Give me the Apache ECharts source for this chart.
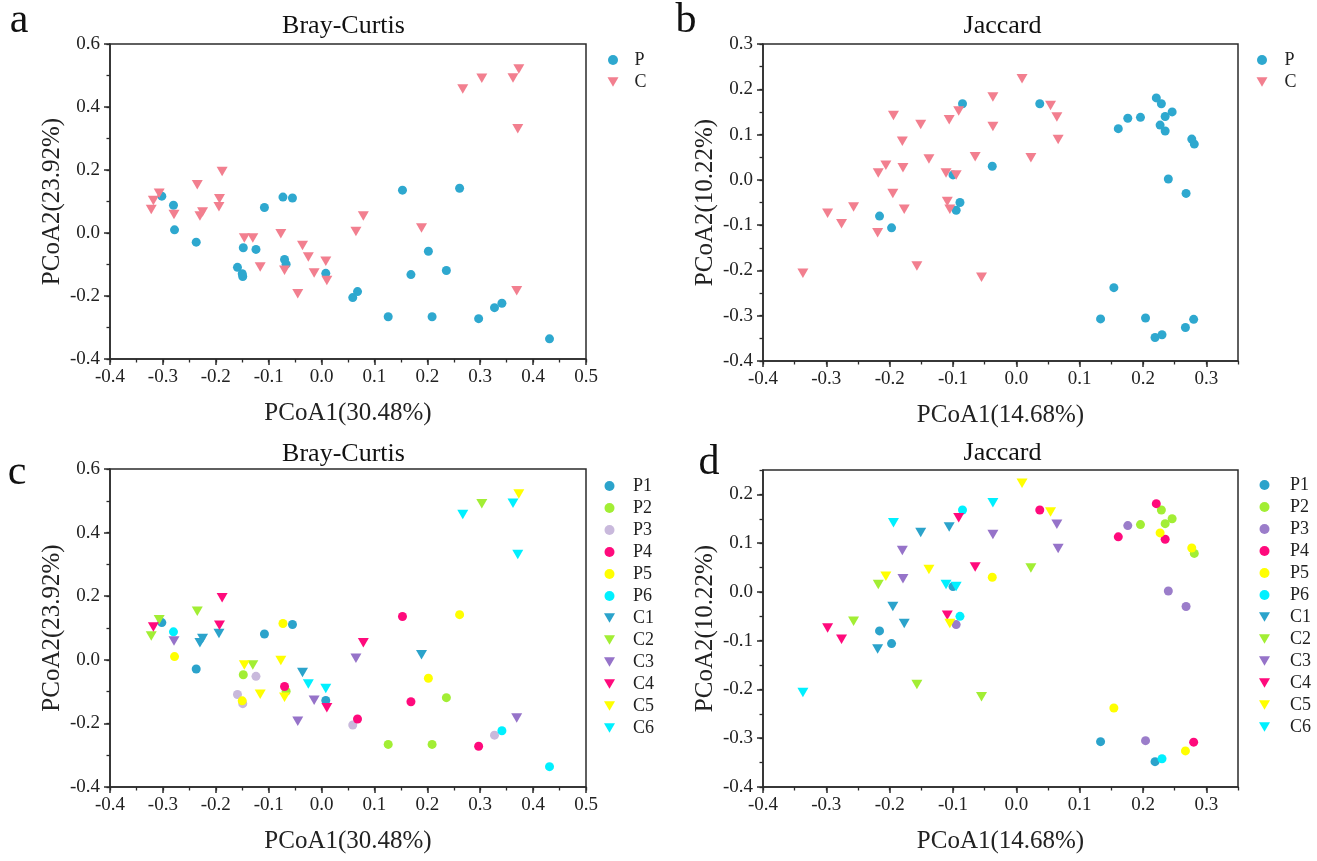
<!DOCTYPE html>
<html>
<head>
<meta charset="utf-8">
<script src="https://cdn.jsdelivr.net/npm/echarts@6/dist/echarts.min.js"></script>
<style>
html,body{margin:0;padding:0;background:#fff;}
#chart{width:1317px;height:861px;}
</style>
</head>
<body>
<div id="chart"></div>
<script>
// ---------------- DATA ----------------
const GROUPS = ['P1','P2','P3','P4','P5','P6','C1','C2','C3','C4','C5','C6'];

// Bray-Curtis PCoA (PCoA1 30.48%, PCoA2 23.92%)
const bcP1 = [[-0.302,0.117],[-0.237,-0.029],[-0.108,0.081],[-0.055,0.111],[0.008,-0.128]];
const bcP2 = [[-0.148,-0.047],[-0.067,-0.099],[0.236,-0.119],[0.126,-0.266],[0.209,-0.266]];
const bcP3 = [[-0.159,-0.109],[-0.149,-0.138],[-0.124,-0.052],[0.059,-0.205],[0.327,-0.237]];
const bcP4 = [[-0.070,-0.084],[0.068,-0.186],[0.153,0.136],[0.169,-0.132],[0.297,-0.272]];
const bcP5 = [[-0.278,0.010],[-0.150,-0.129],[-0.073,0.114],[0.261,0.142],[0.202,-0.058]];
const bcP6 = [[-0.280,0.088],[0.341,-0.223],[0.431,-0.336]];
const bcC1 = [[-0.230,0.054],[-0.225,0.067],[-0.194,0.083],[-0.036,-0.040],[0.189,0.016]];
const bcC2 = [[-0.322,0.075],[-0.307,0.126],[-0.235,0.153],[-0.130,-0.016],[0.303,0.491]];
const bcC3 = [[-0.279,0.059],[-0.045,-0.193],[-0.014,-0.127],[0.065,0.005],[0.369,-0.183]];
const bcC4 = [[-0.318,0.103],[-0.188,0.195],[-0.193,0.109],[0.010,-0.151],[0.079,0.054]];
const bcC5 = [[-0.146,-0.016],[-0.116,-0.108],[-0.077,-0.002],[-0.070,-0.118],[0.373,0.521]];
const bcC6 = [[-0.025,-0.076],[0.008,-0.090],[0.267,0.457],[0.362,0.492],[0.371,0.331]];

// Jaccard PCoA (PCoA1 14.68%, PCoA2 10.22%)
const jcP1 = [[-0.100,0.011],[-0.216,-0.080],[-0.197,-0.106],[0.133,-0.307],[0.219,-0.348]];
const jcP2 = [[0.196,0.138],[0.229,0.168],[0.235,0.140],[0.246,0.150],[0.281,0.079]];
const jcP3 = [[-0.095,-0.067],[0.176,0.136],[0.240,0.002],[0.268,-0.030],[0.204,-0.305]];
const jcP4 = [[0.037,0.168],[0.161,0.113],[0.221,0.181],[0.235,0.108],[0.280,-0.308]];
const jcP5 = [[-0.038,0.030],[0.227,0.121],[0.277,0.090],[0.154,-0.238],[0.267,-0.326]];
const jcP6 = [[-0.085,0.168],[-0.089,-0.050],[0.230,-0.342]];
const jcC1 = [[-0.219,-0.117],[-0.195,-0.030],[-0.177,-0.065],[-0.151,0.122],[-0.106,0.133]];
const jcC2 = [[-0.257,-0.060],[-0.218,0.015],[-0.157,-0.190],[-0.055,-0.215],[0.023,0.049]];
const jcC3 = [[-0.180,0.085],[-0.179,0.027],[-0.037,0.118],[0.064,0.139],[0.066,0.089]];
const jcC4 = [[-0.298,-0.074],[-0.276,-0.097],[-0.109,-0.048],[-0.091,0.152],[-0.065,0.051]];
const jcC5 = [[-0.206,0.032],[-0.138,0.046],[-0.105,-0.065],[0.009,0.223],[0.054,0.164]];
const jcC6 = [[-0.337,-0.206],[-0.194,0.142],[-0.111,0.015],[-0.095,0.011],[-0.037,0.183]];

// axis ticks
const bcXTicks = [-0.4,-0.3,-0.2,-0.1,0,0.1,0.2,0.3,0.4,0.5];
const bcYTicks = [-0.4,-0.2,0,0.2,0.4,0.6];
const jcXTicks = [-0.4,-0.3,-0.2,-0.1,0,0.1,0.2,0.3];
const jcYTicksB = [-0.4,-0.3,-0.2,-0.1,0,0.1,0.2,0.3];
const jcYTicksD = [-0.4,-0.3,-0.2,-0.1,0,0.1,0.2];

// ---------------- STYLE ----------------
const FONT = '"Liberation Serif", "Times New Roman", serif';
const TRI = 'path://M0,0 L10,0 L5,8.66 Z';
const AX = '#2b2b2b';
const COL_P = '#2EA8CF';
const COL_C = '#F27F8F';
const COLORS_C = ['#2BA3CB','#A2EE34','#C9B9DC','#FF0A7C','#FFFF00','#00F0FF',
                  '#2BA3CB','#A2EE34','#9673C9','#FF0A7C','#FFFF00','#00F0FF'];
const COLORS_D = ['#2BA3CB','#A2EE34','#9B7DCA','#FF0A7C','#FFFF00','#00F0FF',
                  '#2BA3CB','#A2EE34','#9673C9','#FF0A7C','#FFFF00','#00F0FF'];

const bcData = [bcP1,bcP2,bcP3,bcP4,bcP5,bcP6,bcC1,bcC2,bcC3,bcC4,bcC5,bcC6];
const jcData = [jcP1,jcP2,jcP3,jcP4,jcP5,jcP6,jcC1,jcC2,jcC3,jcC4,jcC5,jcC6];

const grids = [
  {left:110, top:44, width:476, height:315},
  {left:763, top:44, width:475, height:317},
  {left:110, top:469, width:476, height:318},
  {left:763, top:470, width:475, height:317}
];
grids.forEach(g => { g.show = true; g.borderColor = AX; g.borderWidth = 1.5; g.backgroundColor = 'transparent'; });

function axisPair(dim, gi, min, max, majors, minorInt, name, nameGap) {
  const pos = dim === 'x' ? 'bottom' : 'left';
  const main = {
    type:'value', gridIndex:gi, min:min, max:max, interval:majors[1]-majors[0], position:pos,
    axisLine:{show:true, onZero:false, lineStyle:{color:AX, width:1.5}},
    axisTick:{show:true, length:6, customValues:majors, lineStyle:{color:AX, width:1.5}},
    axisLabel:{show:true, customValues:majors, formatter:v => (Math.abs(v) < 1e-9 ? 0 : v).toFixed(1),
               fontSize:19, fontFamily:FONT, color:'#222', margin: dim === 'x' ? 9 : 10,
               showMaxLabel: true},
    splitLine:{show:false},
    name:name, nameLocation:'middle', nameGap:nameGap,
    nameTextStyle:{fontSize:25, fontFamily:FONT, color:'#222'}
  };
  const minor = {
    type:'value', gridIndex:gi, min:min, max:max, interval:minorInt, position:pos,
    axisLine:{show:false, onZero:false},
    axisTick:{show:true, length:3.5, lineStyle:{color:AX, width:1.3}},
    axisLabel:{show:false}, splitLine:{show:false}
  };
  return [main, minor];
}

const xAxes = [].concat(
  axisPair('x',0,-0.4,0.5,bcXTicks,0.05,'PCoA1(30.48%)',42),
  axisPair('x',1,-0.4,0.35,jcXTicks,0.05,'PCoA1(14.68%)',42),
  axisPair('x',2,-0.4,0.5,bcXTicks,0.05,'PCoA1(30.48%)',42),
  axisPair('x',3,-0.4,0.35,jcXTicks,0.05,'PCoA1(14.68%)',42)
);
const yAxes = [].concat(
  axisPair('y',0,-0.4,0.6,bcYTicks,0.1,'PCoA2(23.92%)',45),
  axisPair('y',1,-0.4,0.3,jcYTicksB,0.05,'PCoA2(10.22%)',45),
  axisPair('y',2,-0.4,0.6,bcYTicks,0.1,'PCoA2(23.92%)',45),
  axisPair('y',3,-0.4,0.25,jcYTicksD,0.05,'PCoA2(10.22%)',45)
);

const series = [];
function pcSeries(gi, dataArr) {
  series.push({name:'P', type:'scatter', xAxisIndex:gi*2, yAxisIndex:gi*2,
    data:[].concat(...dataArr.slice(0,6)), symbol:'circle', symbolSize:9,
    itemStyle:{color:COL_P, opacity:1}});
  series.push({name:'C', type:'scatter', xAxisIndex:gi*2, yAxisIndex:gi*2,
    data:[].concat(...dataArr.slice(6)), symbol:TRI, symbolSize:[11,9.5],
    itemStyle:{color:COL_C, opacity:1}});
}
pcSeries(0, bcData);
pcSeries(1, jcData);
function groupSeries(gi, prefix, dataArr, colors) {
  GROUPS.forEach((g, i) => {
    const isP = g[0] === 'P';
    series.push({name:prefix+g, type:'scatter', xAxisIndex:gi*2, yAxisIndex:gi*2,
      data:dataArr[i], symbol: isP ? 'circle' : TRI, symbolSize: isP ? 9 : [11,9.5],
      itemStyle:{color:colors[i], opacity:1}});
  });
}
groupSeries(2, 'c', bcData, COLORS_C);
groupSeries(3, 'd', jcData, COLORS_D);

function legendCfg(names, icons, left, top, pad, fmt) {
  return {
    orient:'vertical', left:left, top:top, itemWidth:11, itemHeight:10, itemGap:2,
    selectedMode:false,
    data: names.map((n,i) => ({name:n, icon:icons[i]})),
    formatter: fmt,
    textStyle:{fontSize:18, fontFamily:FONT, color:'#222', lineHeight:20, padding:[0,0,0,pad]}
  };
}
const grpIcons = GROUPS.map(g => g[0] === 'P' ? 'circle' : TRI);
const legends = [
  legendCfg(['P','C'], ['circle',TRI], 602.5, 45, 11, n => n),
  legendCfg(['P','C'], ['circle',TRI], 1251.5, 45, 12, n => n),
  legendCfg(GROUPS.map(g=>'c'+g), grpIcons, 599, 471, 13, n => n.slice(1)),
  legendCfg(GROUPS.map(g=>'d'+g), grpIcons, 1254, 470, 15, n => n.slice(1))
];

function txt(t, x, y, size) {
  return {type:'text', x:x, y:y, silent:true,
    style:{text:t, fontSize:size, fontFamily:FONT, fill:'#111', align:'center', verticalAlign:'middle'}};
}
const graphics = [
  txt('a', 19, 21, 42), txt('b', 686, 21, 42), txt('c', 17, 473, 42), txt('d', 709, 463, 42),
  txt('Bray-Curtis', 343.5, 26, 26), txt('Jaccard', 1002.5, 26, 26),
  txt('Bray-Curtis', 343.5, 454, 26), txt('Jaccard', 1002.5, 453, 26)
];

const chart = echarts.init(document.getElementById('chart'), null, {renderer:'canvas'});
chart.setOption({
  animation:false,
  backgroundColor:'#fff',
  grid:grids,
  xAxis:xAxes,
  yAxis:yAxes,
  legend:legends,
  series:series,
  graphic:graphics
});
</script>
</body>
</html>
